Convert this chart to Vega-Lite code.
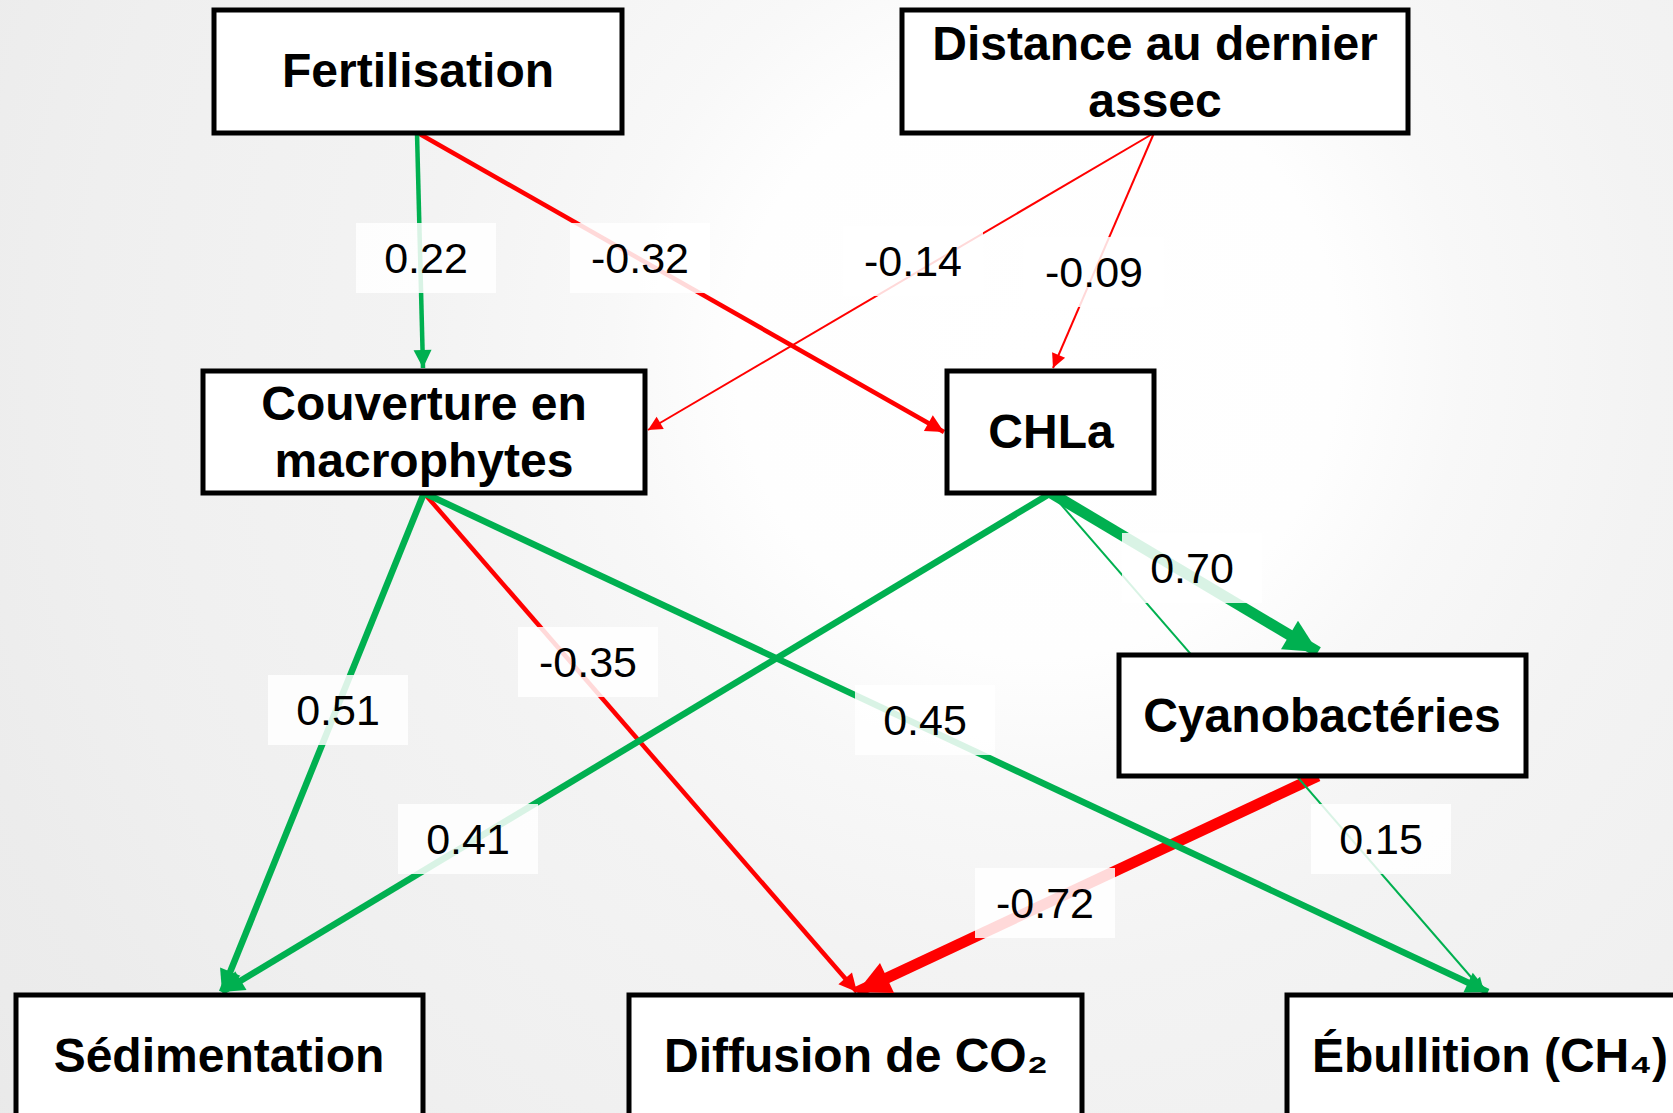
{
  "$schema": "https://vega.github.io/schema/vega-lite/v6.json",
  "width": 1673,
  "height": 1113,
  "padding": 0,
  "autosize": {"type": "none"},
  "view": {
    "stroke": null,
    "fill": {
      "gradient": "radial",
      "x1": 0.62, "y1": 0.38, "r1": 0,
      "x2": 0.62, "y2": 0.38, "r2": 0.85,
      "stops": [
        {"offset": 0, "color": "#ffffff"},
        {"offset": 0.212, "color": "#fefefe"},
        {"offset": 0.3, "color": "#f8f8f8"},
        {"offset": 0.435, "color": "#f3f3f3"},
        {"offset": 0.67, "color": "#efefef"},
        {"offset": 0.786, "color": "#ececec"},
        {"offset": 0.855, "color": "#ebebeb"},
        {"offset": 1, "color": "#e7e7e7"}
      ]
    }
  },
  "datasets": {
    "edges": [
      {"from": "Fertilisation", "to": "CHLa", "coef": -0.32, "label": "-0.32", "x1": 418, "y1": 133, "x2": 944, "y2": 432, "lx": 640, "ly": 258},
      {"from": "Distance au dernier assec", "to": "Couverture en macrophytes", "coef": -0.14, "label": "-0.14", "x1": 1154, "y1": 133, "x2": 648, "y2": 430, "lx": 913, "ly": 261},
      {"from": "Distance au dernier assec", "to": "CHLa", "coef": -0.09, "label": "-0.09", "x1": 1154, "y1": 133, "x2": 1053, "y2": 368, "lx": 1094, "ly": 272},
      {"from": "Couverture en macrophytes", "to": "Diffusion de CO2", "coef": -0.35, "label": "-0.35", "x1": 424, "y1": 493, "x2": 857, "y2": 992, "lx": 588, "ly": 662},
      {"from": "Cyanobactéries", "to": "Diffusion de CO2", "coef": -0.72, "label": "-0.72", "x1": 1318, "y1": 776, "x2": 857, "y2": 992, "lx": 1045, "ly": 903},
      {"from": "Fertilisation", "to": "Couverture en macrophytes", "coef": 0.22, "label": "0.22", "x1": 417, "y1": 133, "x2": 423, "y2": 368, "lx": 426, "ly": 258},
      {"from": "Couverture en macrophytes", "to": "Sédimentation", "coef": 0.51, "label": "0.51", "x1": 424, "y1": 493, "x2": 222, "y2": 992, "lx": 338, "ly": 710},
      {"from": "Couverture en macrophytes", "to": "Ébullition (CH4)", "coef": 0.45, "label": "0.45", "x1": 424, "y1": 493, "x2": 1488, "y2": 992, "lx": 925, "ly": 720},
      {"from": "CHLa", "to": "Sédimentation", "coef": 0.41, "label": "0.41", "x1": 1051, "y1": 493, "x2": 222, "y2": 992, "lx": 468, "ly": 839},
      {"from": "CHLa", "to": "Cyanobactéries", "coef": 0.70, "label": "0.70", "x1": 1051, "y1": 493, "x2": 1318, "y2": 652, "lx": 1192, "ly": 568},
      {"from": "CHLa", "to": "Ébullition (CH4)", "coef": 0.15, "label": "0.15", "x1": 1051, "y1": 493, "x2": 1484, "y2": 992, "lx": 1381, "ly": 839}
    ],
    "nodes": [
      {"node": "Fertilisation", "x1": 214, "x2": 622, "y1": 10, "y2": 133, "cx": 418, "cy": 71, "text": ["Fertilisation"]},
      {"node": "Distance au dernier assec", "x1": 902, "x2": 1408, "y1": 10, "y2": 133, "cx": 1155, "cy": 44, "text": ["Distance au dernier", "assec"]},
      {"node": "Couverture en macrophytes", "x1": 203, "x2": 645, "y1": 371, "y2": 493, "cx": 424, "cy": 404, "text": ["Couverture en", "macrophytes"]},
      {"node": "CHLa", "x1": 947, "x2": 1154, "y1": 371, "y2": 493, "cx": 1051, "cy": 432, "text": ["CHLa"]},
      {"node": "Cyanobactéries", "x1": 1119, "x2": 1526, "y1": 655, "y2": 776, "cx": 1322, "cy": 716, "text": ["Cyanobactéries"]},
      {"node": "Sédimentation", "x1": 16, "x2": 423, "y1": 995, "y2": 1118, "cx": 219, "cy": 1056, "text": ["Sédimentation"]},
      {"node": "Diffusion de CO2", "x1": 629, "x2": 1082, "y1": 995, "y2": 1118, "cx": 856, "cy": 1056, "text": ["Diffusion de CO₂"]},
      {"node": "Ébullition (CH4)", "x1": 1287, "x2": 1690, "y1": 995, "y2": 1118, "cx": 1490, "cy": 1056, "text": ["Ébullition (CH₄)"]}
    ]
  },
  "layer": [
    {
      "data": {"name": "edges"},
      "mark": {"type": "rule", "strokeCap": "butt"},
      "encoding": {
        "x": {"field": "x1", "type": "quantitative", "scale": {"domain": [0, 1673], "nice": false, "zero": false}, "axis": null},
        "y": {"field": "y1", "type": "quantitative", "scale": {"domain": [0, 1113], "nice": false, "zero": false, "reverse": true}, "axis": null},
        "x2": {"field": "x2"},
        "y2": {"field": "y2"},
        "color": {"condition": {"test": "datum.coef < 0", "value": "#ff0000"}, "value": "#00b050"},
        "strokeWidth": {"field": "coef", "type": "quantitative", "scale": {"type": "threshold", "domain": [-0.6, -0.4, -0.2, 0.2, 0.4, 0.6], "range": [11, 6.5, 4.5, 2, 4.5, 6.5, 11]}, "legend": null}
      }
    },
    {
      "data": {"name": "edges"},
      "mark": {"type": "point", "shape": "M-2,-1L2,-1L2,1L-2,1Z", "size": 4900, "filled": true, "fill": "#ffffff", "opacity": 0.85, "strokeWidth": 0},
      "encoding": {
        "x": {"field": "lx", "type": "quantitative", "scale": {"domain": [0, 1673], "nice": false, "zero": false}, "axis": null},
        "y": {"field": "ly", "type": "quantitative", "scale": {"domain": [0, 1113], "nice": false, "zero": false, "reverse": true}, "axis": null}
      }
    },
    {
      "data": {"name": "nodes"},
      "mark": {"type": "rect", "fill": "#ffffff", "stroke": "#000000", "strokeWidth": 5},
      "encoding": {
        "x": {"field": "x1", "type": "quantitative", "scale": {"domain": [0, 1673], "nice": false, "zero": false}, "axis": null},
        "y": {"field": "y1", "type": "quantitative", "scale": {"domain": [0, 1113], "nice": false, "zero": false, "reverse": true}, "axis": null},
        "x2": {"field": "x2"},
        "y2": {"field": "y2"}
      }
    },
    {
      "data": {"name": "edges"},
      "mark": {"type": "point", "shape": "M0,0L-1,2L1,2Z", "filled": true, "opacity": 1, "strokeWidth": 0,
        "angle": {"expr": "atan2(datum.x2 - datum.x1, datum.y1 - datum.y2) * 180 / PI"}},
      "encoding": {
        "x": {"field": "x2", "type": "quantitative", "scale": {"domain": [0, 1673], "nice": false, "zero": false}, "axis": null},
        "y": {"field": "y2", "type": "quantitative", "scale": {"domain": [0, 1113], "nice": false, "zero": false, "reverse": true}, "axis": null},
        "color": {"condition": {"test": "datum.coef < 0", "value": "#ff0000"}, "value": "#00b050"},
        "size": {"field": "coef", "type": "quantitative", "scale": {"type": "threshold", "domain": [-0.6, -0.4, -0.2, 0.2, 0.4, 0.6], "range": [1100, 484, 324, 200, 324, 484, 1100]}, "legend": null}
      }
    },
    {
      "data": {"name": "edges"},
      "mark": {"type": "text", "font": "Liberation Sans", "fontSize": 43, "align": "center", "baseline": "middle", "dy": 2, "color": "#000000"},
      "encoding": {
        "x": {"field": "lx", "type": "quantitative", "scale": {"domain": [0, 1673], "nice": false, "zero": false}, "axis": null},
        "y": {"field": "ly", "type": "quantitative", "scale": {"domain": [0, 1113], "nice": false, "zero": false, "reverse": true}, "axis": null},
        "text": {"field": "label"}
      }
    },
    {
      "data": {"name": "nodes"},
      "mark": {"type": "text", "font": "Liberation Sans", "fontWeight": "bold", "fontSize": 48, "lineHeight": 57, "align": "center", "baseline": "middle", "dy": 2, "color": "#000000"},
      "encoding": {
        "x": {"field": "cx", "type": "quantitative", "scale": {"domain": [0, 1673], "nice": false, "zero": false}, "axis": null},
        "y": {"field": "cy", "type": "quantitative", "scale": {"domain": [0, 1113], "nice": false, "zero": false, "reverse": true}, "axis": null},
        "text": {"field": "text"}
      }
    }
  ]
}
